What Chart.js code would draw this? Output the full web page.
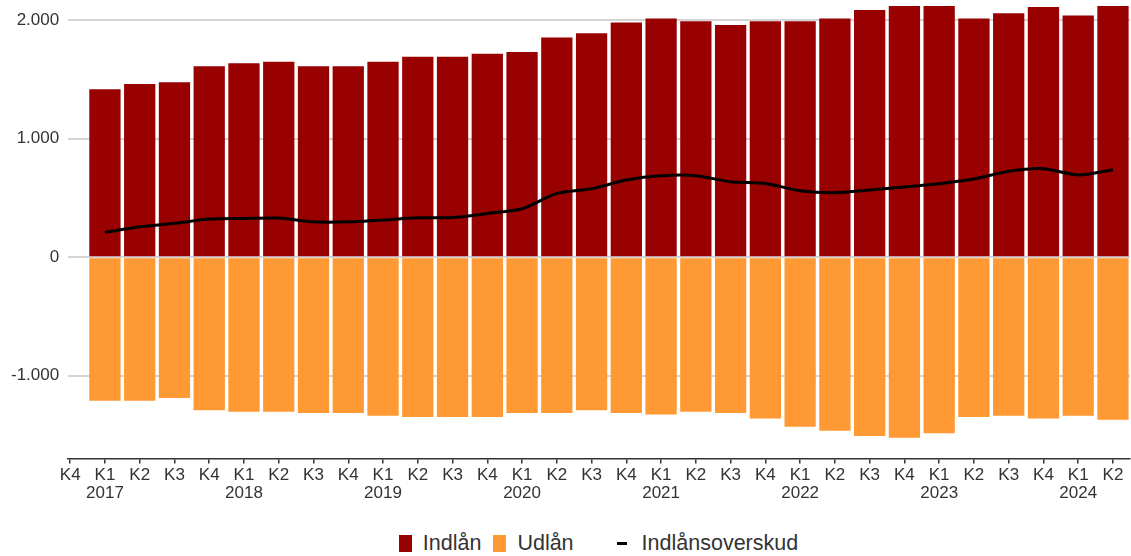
<!DOCTYPE html>
<html lang="da">
<head>
<meta charset="utf-8">
<title>Indlån og udlån</title>
<script src="https://cdn.jsdelivr.net/npm/chart.js@4"></script>
<style>
  body { margin: 0; background: #fff; font-family: "Liberation Sans", Arial, sans-serif; }
  #wrap { position: relative; width: 1131px; height: 556px; overflow: hidden; }
  /* raised so the plot starts near the top edge despite the tick label padding */
  #box { position: absolute; left: 0; top: -16px; width: 1131px; height: 521px; }
  #legend {
    position: absolute; left: 67px; width: 1063px; top: 531px; height: 24px;
    display: flex; justify-content: center; align-items: center;
    font-size: 21.5px; color: #333;
  }
  #legend .sw { width: 13px; height: 17px; margin-right: 11px; }
  #legend .dash { width: 10px; height: 3px; background: #000; margin-right: 15px; }
  #legend .item { display: flex; align-items: center; margin-right: 12px; }
  #legend .item.line { margin-left: 31px; margin-right: 0; }
</style>
</head>
<body>
<div id="wrap">
  <div id="box"><canvas id="chart"></canvas></div>
  <div id="legend"></div>
</div>
<script>
// quarters, first slot (K4 2016) has no data
var quarters = ['K4','K1','K2','K3','K4','K1','K2','K3','K4','K1','K2','K3','K4','K1','K2','K3','K4',
                'K1','K2','K3','K4','K1','K2','K3','K4','K1','K2','K3','K4','K1','K2'];
var years = ['','2017','','','','2018','','','','2019','','','','2020','','','',
             '2021','','','','2022','','','','2023','','','','2024',''];
var yTicks = [-1000, 0, 1000, 2000];

// mio. kr., K1 2017 - K2 2024
var indlaan = [1417, 1462, 1476, 1611, 1637, 1648, 1611, 1611, 1648, 1690, 1690, 1716, 1730, 1853, 1890, 1980,
               2014, 1991, 1958, 1991, 1991, 2014, 2085, 2119, 2119, 2014, 2059, 2110, 2039, 2119];
var udlaan = [-1211, -1211, -1189, -1293, -1304, -1304, -1316, -1316, -1338, -1349, -1349, -1349, -1316, -1316, -1293, -1316,
              -1327, -1304, -1316, -1361, -1431, -1465, -1510, -1524, -1487, -1349, -1338, -1361, -1338, -1372];
var overskud = [209, 256, 285, 321, 327, 330, 298, 298, 313, 332, 334, 369, 408, 538, 577, 651,
                687, 687, 636, 622, 560, 544, 566, 592, 620, 659, 724, 746, 693, 738];

var RED = '#990000', ORANGE = '#ff9933';

function points(arr) {
  return arr.map(function(v, i) { return {x: i + 1, y: v}; });
}

function fmt(v) {
  var s = Math.abs(v).toFixed(0).replace(/\B(?=(\d{3})+(?!\d))/g, '.');
  return (v < 0 ? '-' : '') + s;
}

var font = {family: '"Liberation Sans", Arial, sans-serif', size: 17, lineHeight: 1.1};

new Chart(document.getElementById('chart'), {
  data: {
    datasets: [
      {type: 'line', label: 'Indlånsoverskud', data: points(overskud), stack: 'net', order: 0,
       borderColor: '#000', borderWidth: 3, pointRadius: 0, tension: 0.25, fill: false},
      {type: 'bar', label: 'Indlån', data: points(indlaan), stack: 'bal', order: 1,
       backgroundColor: RED, barPercentage: 0.9, categoryPercentage: 1},
      {type: 'bar', label: 'Udlån', data: points(udlaan), stack: 'bal', order: 1,
       backgroundColor: ORANGE, barPercentage: 0.9, categoryPercentage: 1}
    ]
  },
  options: {
    responsive: true,
    maintainAspectRatio: false,
    animation: false,
    layout: {padding: {top: 0, left: 2, right: 1, bottom: 0}},
    plugins: {legend: {display: false}, tooltip: {enabled: false}},
    scales: {
      x: {
        type: 'linear',
        offset: false,
        stacked: true,
        min: -0.057,
        max: 30.49,
        border: {display: true, color: '#333', width: 1.5},
        grid: {drawOnChartArea: false, drawTicks: true, tickLength: 5, color: '#333', lineWidth: 1.5, offset: false},
        afterBuildTicks: function(scale) {
          scale.ticks = quarters.map(function(q, i) { return {value: i}; });
        },
        ticks: {
          autoSkip: false,
          maxRotation: 0,
          padding: 2,
          color: '#333',
          font: font,
          callback: function(v) {
            var i = Math.round(v);
            return [quarters[i], years[i]];
          }
        }
      },
      y: {
        stacked: true,
        min: -1700,
        max: 2150,
        border: {display: false},
        grid: {color: '#d4d4d4', lineWidth: 2, drawTicks: false},
        afterBuildTicks: function(scale) {
          scale.ticks = yTicks.map(function(v) { return {value: v}; });
        },
        ticks: {
          padding: 9,
          color: '#333',
          font: font,
          callback: function(v) { return fmt(v); }
        }
      }
    }
  }
});

// legend below the plot
var legend = document.getElementById('legend');
[['Indlån', RED, 'sw'], ['Udlån', ORANGE, 'sw'], ['Indlånsoverskud', '#000', 'dash']].forEach(function(d) {
  var item = document.createElement('div');
  item.className = 'item' + (d[2] === 'dash' ? ' line' : '');
  var mark = document.createElement('span');
  mark.className = d[2];
  mark.style.background = d[1];
  var txt = document.createElement('span');
  txt.textContent = d[0];
  item.appendChild(mark);
  item.appendChild(txt);
  legend.appendChild(item);
});
</script>
</body>
</html>
